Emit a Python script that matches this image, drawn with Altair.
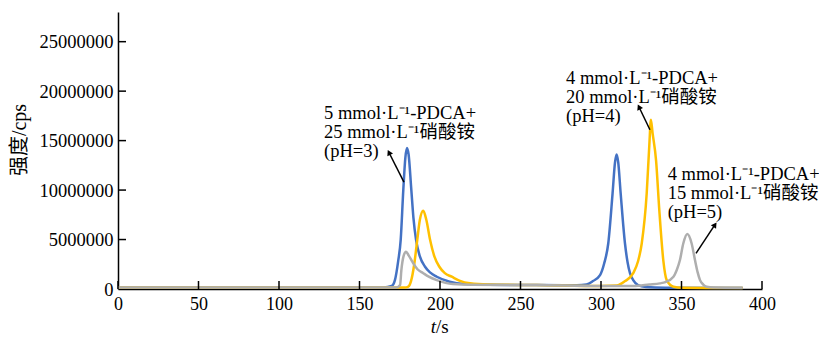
import altair as alt
import pandas as pd

# ---- data (intensity values in millions of cps) ----
t_blue = [0, 100, 165, 170, 172, 174, 175.6, 177.2, 178.5, 179.5, 180.5, 182.2, 183.5, 185.1, 187.5, 190.7, 194, 198, 206, 215,
          230, 260, 285, 291, 295, 299.4, 302, 304.5, 307.2, 308.7, 309.7, 310.7, 312.2, 314.9, 316.5, 318, 320, 323, 328, 340, 388]
v_blue = [0.15, 0.15, 0.15, 0.3, 0.9, 2.8, 5.0, 10.0, 13.3, 14.25, 13.6, 10.0, 7.2, 5.0, 3.3, 2.25, 1.65, 1.24, 0.74, 0.5,
          0.42, 0.4, 0.38, 0.45, 0.8, 1.4, 2.6, 4.6, 9.7, 12.8, 13.6, 12.8, 9.7, 4.6, 2.7, 1.6, 0.9, 0.4, 0.2, 0.12, 0.1]

t_orange = [0, 100, 178, 180.3, 182, 184, 185.9, 187.5, 189.6, 191.5, 193.8, 196.5, 199.6, 203, 207.3, 212, 218.6, 230, 260, 300,
            309.7, 315, 320, 323, 325.3, 328.4, 330, 331, 332, 334.2, 336.2, 338.7, 340.8, 345, 350, 388]
v_orange = [0.15, 0.15, 0.15, 0.25, 0.8, 2.5, 5.0, 7.0, 7.9, 7.0, 5.0, 3.3, 2.25, 1.6, 1.24, 0.85, 0.57, 0.45, 0.4, 0.3,
            0.35, 0.8, 1.6, 2.8, 4.6, 9.7, 14.5, 17.1, 15.8, 13.0, 8.0, 2.9, 0.9, 0.23, 0.12, 0.1]

t_gray = [0, 100, 173, 175.2, 176, 177.5, 178.9, 180.5, 183.4, 186, 189.6, 193, 198, 208, 220, 260, 300, 320, 330, 336.6,
          340, 345, 347, 349, 351.1, 353.6, 356.3, 358.4, 360, 361.5, 363.5, 365.6, 370, 388]
v_gray = [0.15, 0.15, 0.15, 0.4, 1.9, 3.4, 3.77, 3.4, 2.6, 2.0, 1.6, 1.25, 0.9, 0.5, 0.42, 0.4, 0.3, 0.3, 0.45, 0.57,
          0.7, 1.24, 1.9, 2.9, 4.6, 5.56, 4.6, 2.9, 1.7, 0.9, 0.45, 0.23, 0.15, 0.12]

x_ticks = [0, 50, 100, 150, 200, 250, 300, 350, 400]
y_ticks = [0, 5000000, 10000000, 15000000, 20000000, 25000000]

ann_x = [128, 278.3, 341.4]
ann_y = [17.2, 20.7, 11.0]
ann_text = [
    "5 mmol·L⁻¹-PDCA+\n25 mmol·L⁻¹硝酸铵\n(pH=3)",
    "4 mmol·L⁻¹-PDCA+\n20 mmol·L⁻¹硝酸铵\n(pH=4)",
    "4 mmol·L⁻¹-PDCA+\n15 mmol·L⁻¹硝酸铵\n(pH=5)",
]

arrow_tail_x = [177.6, 330.4, 359.0]
arrow_tail_y = [10.8, 16.1, 3.6]
arrow_tip_x = [168.3, 323.6, 370.8]
arrow_tip_y = [13.8, 18.4, 6.5]
arrow_angle = [333, 334, 34]

# ---- build tables ----
def series_df(ts, vs):
    return pd.DataFrame({"t": ts, "v": [v * 1e6 for v in vs]})

W, H = 644, 277
FONT = "Liberation Serif, Noto Sans CJK SC, serif"

xs = alt.Scale(domain=[0, 400], nice=False, zero=False)
ys = alt.Scale(domain=[0, 28000000], nice=False)

x_axis = alt.Axis(values=x_ticks, tickSize=0, labelPadding=6, title=None, grid=False,
                  domainColor="black", domainWidth=1.5, labelFontSize=18, labelFont=FONT,
                  labelColor="black", labelFlush=False, labelOverlap=False)
y_axis = alt.Axis(values=y_ticks, format="d", tickSize=0, labelPadding=5, title=None, grid=False,
                  domainColor="black", domainWidth=1.5, labelFontSize=18.5, labelFont=FONT,
                  labelColor="black", labelFlush=False, labelOverlap=False)

def line(ts, vs, color):
    return alt.Chart(series_df(ts, vs)).mark_line(strokeWidth=2.5, interpolate="monotone", color=color).encode(
        x=alt.X("t:Q", scale=xs, axis=x_axis),
        y=alt.Y("v:Q", scale=ys, axis=y_axis),
    )

blue = line(t_blue, v_blue, "#4472C4")
orange = line(t_orange, v_orange, "#FFC000")
gray = line(t_gray, v_gray, "#AEAEAE")

xt = alt.Chart(pd.DataFrame({"t": x_ticks})).mark_rule(color="black", strokeWidth=1.5).encode(
    x=alt.X("t:Q", scale=xs), y=alt.value(H), y2=alt.value(H - 8))
yt = alt.Chart(pd.DataFrame({"v": y_ticks[1:]})).mark_rule(color="black", strokeWidth=1.5).encode(
    y=alt.Y("v:Q", scale=ys), x=alt.value(0), x2=alt.value(8))

ann_df = pd.DataFrame({"x": ann_x, "y": [v * 1e6 for v in ann_y], "text": ann_text})
ann = alt.Chart(ann_df).mark_text(align="left", baseline="alphabetic", lineBreak="\n", fontSize=18.5,
                                  lineHeight=19, font=FONT, color="black").encode(
    x=alt.X("x:Q", scale=xs), y=alt.Y("y:Q", scale=ys), text="text:N")

arr_df = pd.DataFrame({"x": arrow_tail_x, "y": [v * 1e6 for v in arrow_tail_y],
                       "x2": arrow_tip_x, "y2": [v * 1e6 for v in arrow_tip_y], "ang": arrow_angle})
arr = alt.Chart(arr_df).mark_rule(color="black", strokeWidth=1.5).encode(
    x=alt.X("x:Q", scale=xs), y=alt.Y("y:Q", scale=ys), x2="x2:Q", y2="y2:Q")
heads = alt.Chart(arr_df).mark_point(shape="triangle-up", filled=True, size=40, color="black", opacity=1).encode(
    x=alt.X("x2:Q", scale=xs), y=alt.Y("y2:Q", scale=ys), angle=alt.Angle("ang:Q", scale=None))

ytitle = alt.Chart(pd.DataFrame({"s": ["强度/cps"]})).mark_text(
    angle=270, fontSize=20, font=FONT, color="black", align="center", baseline="middle").encode(
    text="s:N", x=alt.value(-98), y=alt.value(128))
xt1 = alt.Chart(pd.DataFrame({"s": ["t"]})).mark_text(
    fontSize=19, font=FONT, fontStyle="italic", color="black", align="right", baseline="alphabetic").encode(
    text="s:N", x=alt.value(318), y=alt.value(321))
xt2 = alt.Chart(pd.DataFrame({"s": ["/s"]})).mark_text(
    fontSize=19, font=FONT, color="black", align="left", baseline="alphabetic").encode(
    text="s:N", x=alt.value(318), y=alt.value(321))

chart = alt.layer(blue, orange, gray, xt, yt, arr, heads, ann, ytitle, xt1, xt2).properties(
    width=W, height=H,
    autosize=alt.AutoSizeParams(type="none"),
    padding={"left": 110, "top": 4, "right": 57, "bottom": 48},
).configure_view(stroke=None)

chart.save("out.html", embed_options={"renderer": "svg", "actions": False})
